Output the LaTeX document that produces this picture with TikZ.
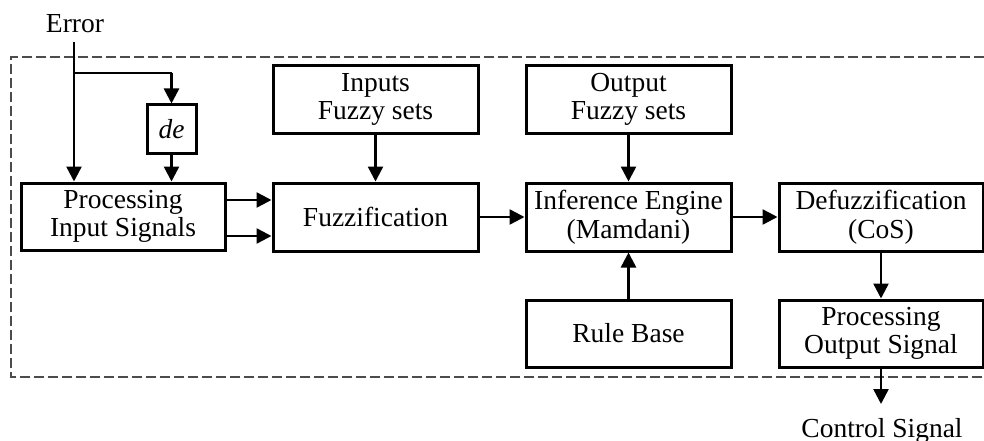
\documentclass[tikz,border=0pt]{standalone}
\usepackage{fontspec}
\setmainfont{Liberation Serif}
\usetikzlibrary{arrows.meta,calc}
\begin{document}
\begin{tikzpicture}[x=1pt,y=-1pt,
  every node/.style={font=\fontsize{27.5}{28.5}\selectfont},
  blk/.style={draw,line width=3pt,align=center,inner sep=0pt,
    minimum width=205pt,minimum height=67pt},
  arr/.style={line width=2.5pt,-{Triangle[length=15pt,width=15pt]}},
  wire/.style={line width=2.5pt},
  frame/.style={draw=black!70,line width=1.3pt,dash pattern=on 10pt off 4pt}]
\useasboundingbox (0,0) rectangle (984,441);

% dashed enclosure of the fuzzy controller (right side runs off the page)
\draw[frame] (984,57) -- (11,57) -- (11,377) -- (984,377);

% blocks
\node[blk,minimum width=204pt] (proc) at (123,216.5) {Processing\\Input Signals};
\node[blk,minimum width=49pt,minimum height=48pt] (de) at (171.5,129) {\itshape de};
\node[blk] (infs) at (375.5,99.5) {Inputs\\Fuzzy sets};
\node[blk,minimum height=68pt] (fuzz) at (375.5,217) {Fuzzification};
\node[blk] (outfs) at (628.5,99.5) {Output\\Fuzzy sets};
\node[blk,minimum height=68pt] (inf) at (628.5,217) {Inference Engine\\(Mamdani)};
\node[blk] (rule) at (628.5,333.5) {Rule Base};
\node[blk,minimum width=204pt,minimum height=68pt] (defz) at (881,217) {Defuzzification\\(CoS)};
\node[blk,minimum width=204pt] (pos) at (881,333.5) {Processing\\Output Signal};

% signal labels
\node[anchor=base,inner sep=0pt] (err) at (75,33) {Error};
\node[anchor=base,inner sep=0pt] (ctl) at (882,437) {Control Signal};
\coordinate (etop) at (74,42);
\coordinate (br) at (74,73);
\coordinate (cend) at (881,404);

% connectors
\draw[arr] (etop) -- (etop |- proc.north);
\draw[wire] (br) -- (br -| de.north);
\draw[arr] (br -| de.north) -- (de.north);
\draw[arr] (de.south) -- (de.south |- proc.north);
\draw[arr] ([yshift=16.5pt]proc.east) -- ([yshift=16.5pt]proc.east -| fuzz.west);
\draw[arr] ([yshift=-19.5pt]proc.east) -- ([yshift=-19.5pt]proc.east -| fuzz.west);
\draw[arr] (infs) -- (fuzz);
\draw[arr] (fuzz) -- (inf);
\draw[arr] (outfs) -- (inf);
\draw[arr] (rule) -- (inf);
\draw[arr] (inf) -- (defz);
\draw[arr] (defz) -- (pos);
\draw[arr] (pos.south) -- (cend);
\end{tikzpicture}
\end{document}
